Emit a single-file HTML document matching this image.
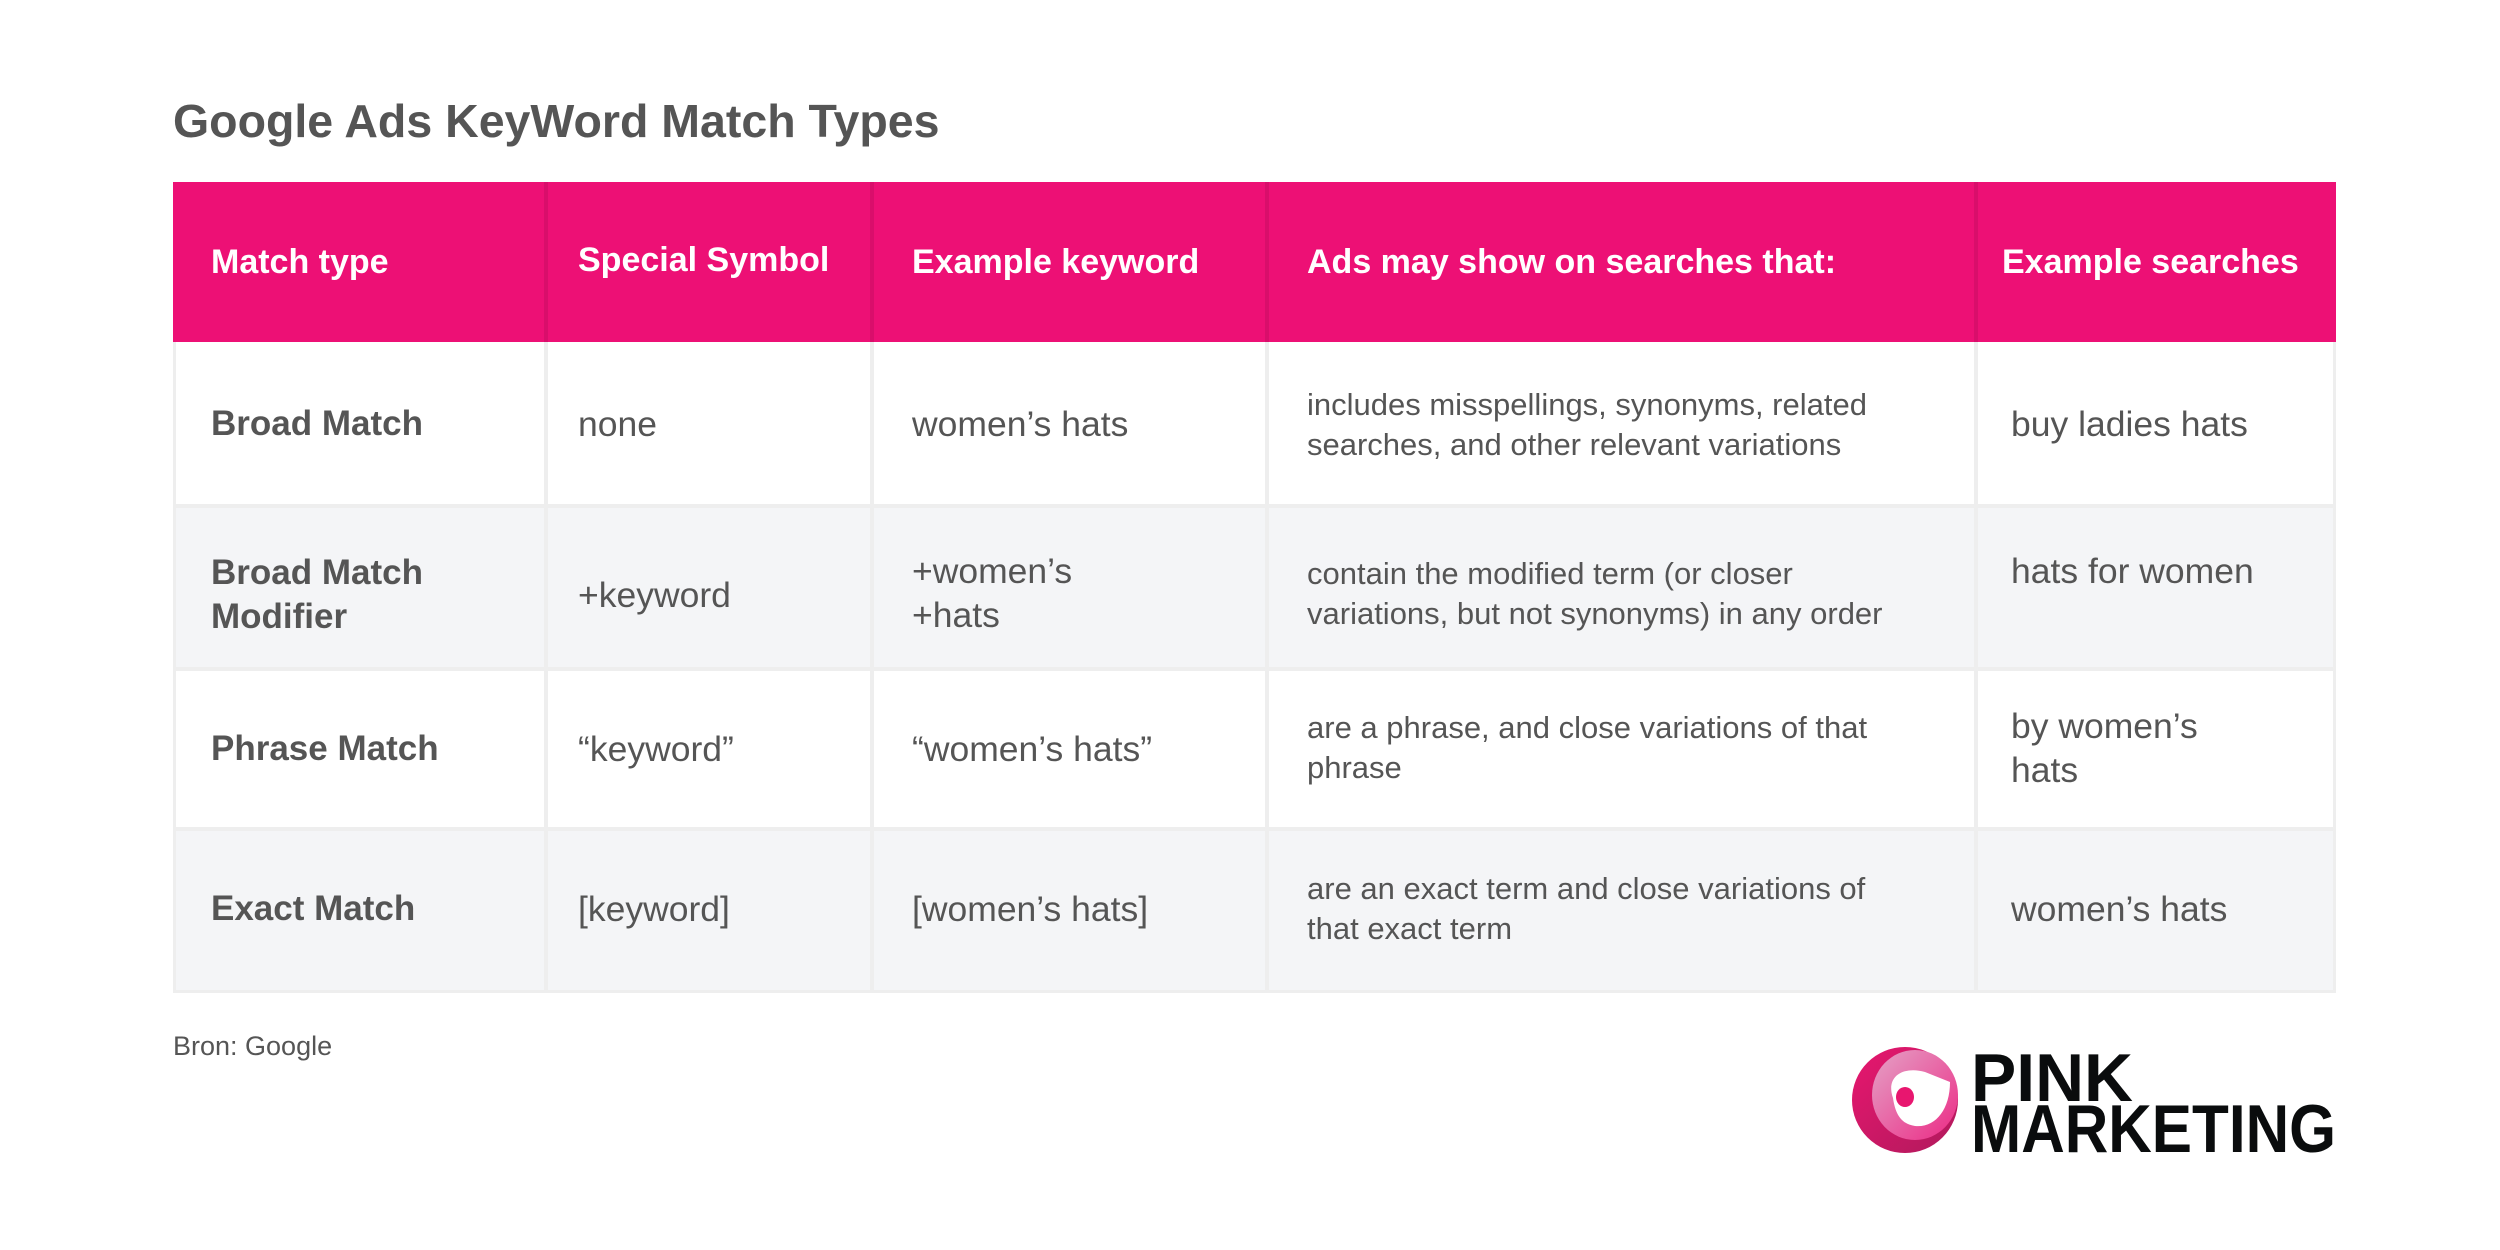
<!DOCTYPE html>
<html><head><meta charset="utf-8"><style>
*{margin:0;padding:0;box-sizing:border-box}
body{width:2500px;height:1250px;background:#fff;position:relative;overflow:hidden;font-family:"Liberation Sans",sans-serif;color:#555}
.a{position:absolute;white-space:nowrap}
.r{position:absolute;left:173px;width:2163px}
.v{position:absolute;width:4px;background:#eeeeee}
.h{color:#fff;font-weight:bold;font-size:34px;line-height:40px}
.b{font-weight:bold;font-size:35px;line-height:44px}
.n{font-size:35.5px;line-height:44px}
.s{font-size:31px;line-height:40px}
</style></head><body>
<div class="a" style="left:173px;top:92px;font-size:46.5px;font-weight:bold;color:#555;line-height:58px">Google Ads KeyWord Match Types</div>

<div class="r" style="top:182px;height:160px;background:#ED1075"></div>
<div class="r" style="top:342px;height:164px;background:#fff"></div>
<div class="r" style="top:506px;height:163px;background:#F4F5F7"></div>
<div class="r" style="top:669px;height:160px;background:#fff"></div>
<div class="r" style="top:829px;height:163px;background:#F4F5F7"></div>
<div class="r" style="top:504px;height:4px;background:#eeeeee"></div>
<div class="r" style="top:667px;height:4px;background:#eeeeee"></div>
<div class="r" style="top:827px;height:4px;background:#eeeeee"></div>
<div class="r" style="top:990px;height:3px;background:#eeeeee"></div>
<div class="v" style="left:173px;top:342px;height:650px;width:3px"></div>
<div class="v" style="left:2333px;top:342px;height:650px;width:3px"></div>
<div class="v" style="left:544px;top:182px;height:810px"></div>
<div class="v" style="left:870px;top:182px;height:810px"></div>
<div class="v" style="left:1265px;top:182px;height:810px"></div>
<div class="v" style="left:1974px;top:182px;height:810px"></div>
<div class="v" style="left:544px;top:182px;height:160px;background:#d90e6b"></div>
<div class="v" style="left:870px;top:182px;height:160px;background:#d90e6b"></div>
<div class="v" style="left:1265px;top:182px;height:160px;background:#d90e6b"></div>
<div class="v" style="left:1974px;top:182px;height:160px;background:#d90e6b"></div>

<div class="a h" style="left:211px;top:242px">Match type</div>
<div class="a h" style="left:578px;top:240px">Special Symbol</div>
<div class="a h" style="left:912px;top:242px">Example keyword</div>
<div class="a h" style="left:1307px;top:242px">Ads may show on searches that:</div>
<div class="a h" style="left:2002px;top:242px">Example searches</div>

<div class="a b" style="left:211px;top:402px">Broad Match</div>
<div class="a n" style="left:578px;top:402px">none</div>
<div class="a n" style="left:912px;top:402px">women’s hats</div>
<div class="a s" style="left:1307px;top:385px">includes misspellings, synonyms, related<br>searches, and other relevant variations</div>
<div class="a n" style="left:2011px;top:402px">buy ladies hats</div>

<div class="a b" style="left:211px;top:551px">Broad Match<br>Modifier</div>
<div class="a n" style="left:578px;top:573px">+keyword</div>
<div class="a n" style="left:912px;top:549px">+women’s<br>+hats</div>
<div class="a s" style="left:1307px;top:554px">contain the modified term (or closer<br>variations, but not synonyms) in any order</div>
<div class="a n" style="left:2011px;top:549px">hats for women</div>

<div class="a b" style="left:211px;top:727px">Phrase Match</div>
<div class="a n" style="left:578px;top:727px">“keyword”</div>
<div class="a n" style="left:912px;top:727px">“women’s hats”</div>
<div class="a s" style="left:1307px;top:708px">are a phrase, and close variations of that<br>phrase</div>
<div class="a n" style="left:2011px;top:704px">by women’s<br>hats</div>

<div class="a b" style="left:211px;top:887px">Exact Match</div>
<div class="a n" style="left:578px;top:887px">[keyword]</div>
<div class="a n" style="left:912px;top:887px">[women’s hats]</div>
<div class="a s" style="left:1307px;top:869px">are an exact term and close variations of<br>that exact term</div>
<div class="a n" style="left:2011px;top:887px">women’s hats</div>

<div class="a" style="left:173px;top:1030px;font-size:27px;line-height:32px">Bron: Google</div>

<svg class="a" style="left:1840px;top:1030px" width="520" height="150" viewBox="1840 1030 520 150">
<defs>
<linearGradient id="g1" x1="0" y1="0" x2="1" y2="1"><stop offset="0" stop-color="#e8166f"/><stop offset="1" stop-color="#b01a5c"/></linearGradient>
<linearGradient id="g2" x1="0" y1="0" x2="1" y2="1"><stop offset="0" stop-color="#e4a2c6"/><stop offset="1" stop-color="#ec2a85"/></linearGradient>
</defs>
<ellipse cx="1905" cy="1100" rx="53" ry="53" fill="url(#g1)"/>
<ellipse cx="1915" cy="1095" rx="43" ry="45" fill="url(#g2)"/>
<path d="M1893 1098 C1885 1075 1905 1066 1925 1072 L1950 1082 C1950 1110 1935 1128 1915 1126 C1900 1124 1895 1112 1893 1098Z" fill="#fff"/>
<ellipse cx="1905" cy="1097" rx="9" ry="10" fill="#e8166f"/>
<text x="1971" y="1101" font-family="Liberation Sans" font-weight="bold" font-size="68" fill="#0a0c0d" textLength="162" lengthAdjust="spacingAndGlyphs">PINK</text>
<text x="1971" y="1152" font-family="Liberation Sans" font-weight="bold" font-size="68" fill="#0a0c0d" textLength="365" lengthAdjust="spacingAndGlyphs">MARKETING</text>
</svg>
</body></html>
